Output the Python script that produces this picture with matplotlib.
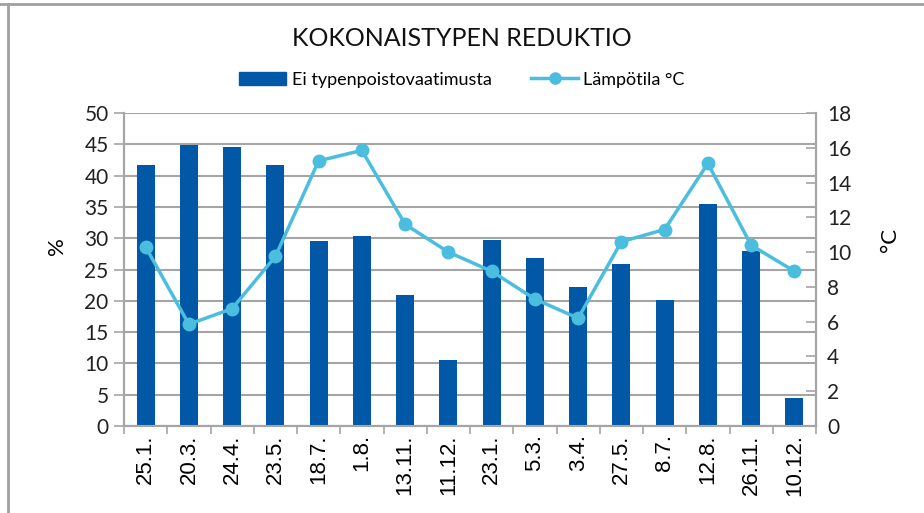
import matplotlib
matplotlib.use("Agg")
import matplotlib.pyplot as plt
import numpy as np
from matplotlib.lines import Line2D

categories = ["25.1.", "20.3.", "24.4.", "23.5.", "18.7.", "1.8.", "13.11.", "11.12.",
              "23.1.", "5.3.", "3.4.", "27.5.", "8.7.", "12.8.", "26.11.", "10.12."]
reduction = [41.7, 44.9, 44.5, 41.7, 29.6, 30.3, 21.0, 10.6,
             29.7, 26.9, 22.2, 25.8, 20.1, 35.4, 28.0, 4.5]
temperature = [10.3, 5.85, 6.75, 9.75, 15.25, 15.85, 11.6, 10.0,
               8.9, 7.3, 6.2, 10.6, 11.3, 15.1, 10.4, 8.9]

bar_color = "#0158A6"
line_color = "#4BBDDE"
grid_color = "#A5A5A5"
font = ["Lato", "DejaVu Sans"]

fig = plt.figure(figsize=(9.24, 5.13), dpi=100)
ax = fig.add_axes([124/924, 87/513, (816-124)/924, (426-113)/513])
ax2 = ax.twinx()

x = np.arange(len(categories))
ax.bar(x, reduction, width=0.42, color=bar_color, zorder=3)
ax.set_xlim(-0.5, len(categories) - 0.5)
ax.set_ylim(0, 50)
ax.set_yticks(np.arange(0, 51, 5))
ax.yaxis.grid(True, color=grid_color, linewidth=1.5, zorder=0)
ax.set_axisbelow(True)

ax2.plot(x, temperature, color=line_color, linewidth=2.5, marker="o", markersize=9, zorder=5)
ax2.set_ylim(0, 18)
ax2.set_yticks(np.arange(0, 19, 2))

for a in (ax, ax2):
    a.spines["top"].set_visible(False)
    for s in ("left", "right", "bottom"):
        a.spines[s].set_color(grid_color)
        a.spines[s].set_linewidth(1.5)

ax.set_xticks(np.arange(-0.5, len(categories), 1.0), minor=False)
ax.set_xticklabels([])
ax.set_xticks(x, minor=True)
ax.set_xticklabels(categories, minor=True, rotation=90, fontsize=16,
                   family=["Liberation Sans", "DejaVu Sans"])
ax.tick_params(axis="x", which="major", length=6, color=grid_color, width=1.2, direction="out")
ax.tick_params(axis="x", which="minor", length=0, pad=6)
ax.tick_params(axis="y", length=7, color=grid_color, width=1.2, direction="out",
               labelsize=15, pad=4)
ax2.tick_params(axis="y", length=7, color=grid_color, width=1.2, direction="in",
                labelsize=15, pad=8)
for lab in ax.get_yticklabels() + ax2.get_yticklabels():
    lab.set_family(font)
    lab.set_color("#222222")

ax.set_ylabel("%", fontsize=16, family=font)
ax.yaxis.set_label_coords(-0.083, 0.575)
ax2.set_ylabel("°C", fontsize=16, family=font)
ax2.yaxis.set_label_coords(1.092, 0.594)

fig.text(0.5, 0.925, "KOKONAISTYPEN REDUKTIO", ha="center", va="center",
         fontsize=18, family=font, color="#111111")

handles = [plt.Rectangle((0, 0), 1, 1, color=bar_color),
           Line2D([0], [0], color=line_color, linewidth=2.5, marker="o", markersize=8)]
fig.legend(handles, ["Ei typenpoistovaatimusta", "Lämpötila °C"], loc="center",
           bbox_to_anchor=(0.5, 0.845), ncol=2, frameon=False,
           prop={"family": font, "size": 13}, handlelength=2.6, columnspacing=2.2,
           handletextpad=0.3)

fig.add_artist(Line2D([0, 1], [1 - 4/513, 1 - 4/513], color="#A0A0A0", linewidth=2,
                      transform=fig.transFigure))
fig.add_artist(Line2D([8/924, 8/924], [0, 1 - 4/513], color="#A0A0A0", linewidth=2,
                      transform=fig.transFigure))

fig.savefig("out.png", dpi=100, facecolor="white")
